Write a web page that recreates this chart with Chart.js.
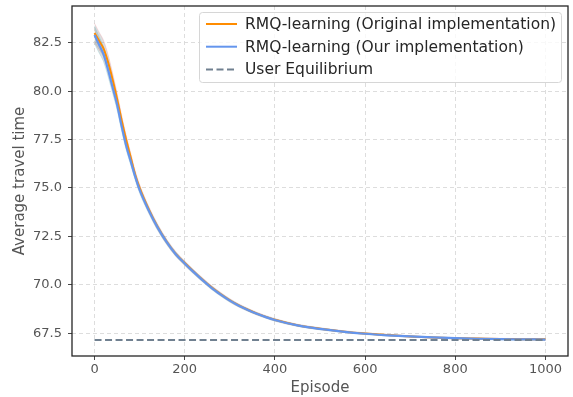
<!DOCTYPE html>
<html>
<head>
<meta charset="utf-8">
<script src="https://cdn.jsdelivr.net/npm/chart.js@4"></script>
<style>
  html, body { margin: 0; padding: 0; background: #fff; }
  #wrap { width: 573px; height: 397px; }
</style>
</head>
<body>
<div id="wrap"><canvas id="travelChart" width="573" height="397"></canvas></div>
<script>
// Data
const episodes = [0, 10, 20, 30, 40, 50, 60, 70, 80, 90, 100, 120, 140, 160, 180, 200, 220, 240, 260, 280, 300, 320, 340, 360, 380, 400, 450, 500, 550, 600, 650, 700, 750, 800, 850, 900, 950, 1000];
const originalTimes = [83.0, 82.6, 82.2, 81.5, 80.6, 79.6, 78.5, 77.5, 76.6, 75.7, 75.0, 73.9, 72.98, 72.22, 71.6, 71.12, 70.67, 70.25, 69.86, 69.51, 69.2, 68.93, 68.71, 68.51, 68.34, 68.19, 67.91, 67.73, 67.59, 67.48, 67.4, 67.33, 67.28, 67.24, 67.22, 67.2, 67.19, 67.18];
const ourTimes = [82.9, 82.4, 81.9, 81.1, 80.2, 79.3, 78.2, 77.2, 76.4, 75.6, 74.9, 73.85, 72.95, 72.2, 71.58, 71.1, 70.65, 70.23, 69.83, 69.49, 69.18, 68.92, 68.7, 68.5, 68.33, 68.18, 67.9, 67.72, 67.58, 67.47, 67.39, 67.33, 67.28, 67.24, 67.21, 67.19, 67.18, 67.17];
const originalSpread = [0.5, 0.45, 0.42, 0.38, 0.34, 0.3, 0.27, 0.24, 0.22, 0.2, 0.18, 0.16, 0.15, 0.13, 0.12, 0.11, 0.1, 0.1, 0.09, 0.09, 0.08, 0.08, 0.07, 0.07, 0.06, 0.06, 0.05, 0.05, 0.04, 0.04, 0.04, 0.03, 0.03, 0.03, 0.03, 0.03, 0.03, 0.03];
const ourSpread = [0.45, 0.42, 0.38, 0.34, 0.3, 0.27, 0.24, 0.22, 0.2, 0.18, 0.17, 0.15, 0.14, 0.12, 0.11, 0.1, 0.1, 0.09, 0.09, 0.08, 0.08, 0.07, 0.07, 0.06, 0.06, 0.06, 0.05, 0.05, 0.04, 0.04, 0.04, 0.03, 0.03, 0.03, 0.03, 0.03, 0.03, 0.03];
const equilibriumValue = 67.15;
const equilibriumRange = [0, 1000];
const xTicks = [0, 200, 400, 600, 800, 1000];
const yTicks = [67.5, 70.0, 72.5, 75.0, 77.5, 80.0, 82.5];
const seriesLabels = ['RMQ-learning (Original implementation)', 'RMQ-learning (Our implementation)', 'User Equilibrium'];

const FONT = '"DejaVu Sans", "Liberation Sans", sans-serif';
const ORANGE = '#ff8c00';
const BLUE = '#6495ed';
const SLATE = '#708090';

function points(values, offsets, sign) {
    return episodes.map((e, i) => ({ x: e, y: values[i] + (offsets ? sign * offsets[i] : 0) }));
}

// matplotlib-style legend inside the axes, top right
const boxLegend = {
    id: 'boxLegend',
    afterDraw(chart) {
        const ctx = chart.ctx;
        const entries = [
            { color: ORANGE, dash: [] },
            { color: BLUE, dash: [] },
            { color: SLATE, dash: [7, 3.5] }
        ];
        const left = 199, top = 12, right = 561, bottom = 82;
        ctx.save();
        ctx.fillStyle = 'rgba(255,255,255,0.8)';
        ctx.strokeStyle = '#d6d6d6';
        ctx.lineWidth = 1;
        ctx.beginPath();
        ctx.roundRect(left + 0.5, top + 0.5, right - left, bottom - top, 3);
        ctx.fill();
        ctx.stroke();
        ctx.font = '15.5px ' + FONT;
        ctx.textBaseline = 'middle';
        entries.forEach((en, i) => {
            const y = 24 + i * 22.7;
            ctx.strokeStyle = en.color;
            ctx.lineWidth = 2;
            ctx.setLineDash(en.dash);
            ctx.beginPath();
            ctx.moveTo(206, y);
            ctx.lineTo(237, y);
            ctx.stroke();
            ctx.setLineDash([]);
            ctx.fillStyle = '#262626';
            ctx.fillText(seriesLabels[i], 245, y + 1);
        });
        ctx.restore();
    }
};

// full frame around the plot area
const frame = {
    id: 'frame',
    afterDatasetsDraw(chart) {
        const { ctx, chartArea: a } = chart;
        ctx.save();
        ctx.strokeStyle = '#262626';
        ctx.lineWidth = 1.3;
        ctx.strokeRect(a.left, a.top, a.right - a.left, a.bottom - a.top);
        ctx.restore();
    }
};

const bandLine = (data, edge, fill) => ({
    label: 'band',
    data: data,
    borderColor: edge,
    borderWidth: 1,
    pointRadius: 0,
    cubicInterpolationMode: 'monotone',
    backgroundColor: 'rgba(140,145,145,0.3)',
    fill: fill
});

const ctx = document.getElementById('travelChart').getContext('2d');
new Chart(ctx, {
    type: 'line',
    data: {
        datasets: [
            {
                label: seriesLabels[2],
                data: equilibriumRange.map(x => ({ x: x, y: equilibriumValue })),
                borderColor: SLATE,
                borderWidth: 2,
                borderDash: [7, 3.5],
                pointRadius: 0,
                fill: false
            },
            {
                label: seriesLabels[1],
                data: points(ourTimes),
                borderColor: BLUE,
                borderWidth: 2.2,
                pointRadius: 0,
                cubicInterpolationMode: 'monotone',
                fill: false
            },
            {
                label: seriesLabels[0],
                data: points(originalTimes),
                borderColor: ORANGE,
                borderWidth: 2,
                pointRadius: 0,
                cubicInterpolationMode: 'monotone',
                fill: false
            },
            bandLine(points(ourTimes, ourSpread, 1), 'rgba(120,200,210,0.3)', '+1'),
            bandLine(points(ourTimes, ourSpread, -1), 'rgba(120,200,210,0.3)', false),
            bandLine(points(originalTimes, originalSpread, 1), 'rgba(235,150,160,0.3)', '+1'),
            bandLine(points(originalTimes, originalSpread, -1), 'rgba(235,150,160,0.3)', false)
        ]
    },
    options: {
        responsive: false,
        animation: false,
        layout: { padding: { top: 6, right: 5, left: 0, bottom: 0 } },
        plugins: {
            legend: { display: false },
            tooltip: { enabled: false }
        },
        scales: {
            x: {
                type: 'linear',
                min: -50,
                max: 1050,
                afterBuildTicks: s => { s.ticks = xTicks.map(v => ({ value: v })); },
                afterFit: s => { s.height = 41; s.paddingLeft = 0; s.paddingRight = 0; },
                ticks: {
                    color: '#555',
                    font: { family: FONT, size: 13 },
                    padding: 2,
                    maxRotation: 0,
                    callback: v => String(v)
                },
                grid: {
                    color: '#d9d9d9',
                    lineWidth: 0.9,
                    tickLength: 4,
                    tickColor: '#333',
                    tickBorderDash: []
                },
                border: { display: false, dash: [4, 3] },
                title: {
                    display: true,
                    text: 'Episode',
                    color: '#555',
                    font: { family: FONT, size: 15 },
                    padding: { top: 0, bottom: 0 }
                }
            },
            y: {
                min: 66.32,
                max: 84.4,
                afterBuildTicks: s => { s.ticks = yTicks.map(v => ({ value: v })); },
                afterFit: s => { s.width = 72; s.paddingTop = 0; s.paddingBottom = 0; },
                ticks: {
                    color: '#555',
                    font: { family: FONT, size: 13 },
                    padding: 6,
                    callback: v => v.toFixed(1)
                },
                grid: {
                    color: '#d9d9d9',
                    lineWidth: 0.9,
                    tickLength: 4,
                    tickColor: '#333',
                    tickBorderDash: []
                },
                border: { display: false, dash: [4, 3] },
                title: {
                    display: true,
                    text: 'Average travel time',
                    color: '#555',
                    font: { family: FONT, size: 15 },
                    padding: { top: 11, bottom: 0 }
                }
            }
        }
    },
    plugins: [frame, boxLegend]
});
</script>
</body>
</html>
